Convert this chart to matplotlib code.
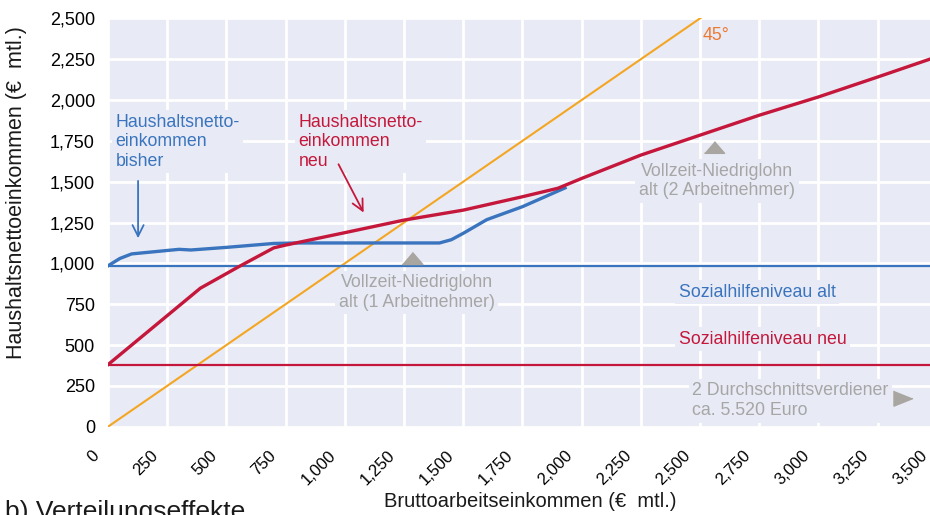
import matplotlib
matplotlib.use('Agg')
import matplotlib.pyplot as plt
import matplotlib.transforms as mtransforms

plt.rcParams['font.family'] = ['Liberation Sans', 'DejaVu Sans']

# values (Euro per month)
brutto_bisher = [0, 50, 100, 200, 300, 350, 500, 700, 800, 1400, 1450, 1500, 1600, 1750, 1930]
netto_bisher = [985, 1030, 1058, 1072, 1086, 1082, 1098, 1122, 1125, 1125, 1145, 1184, 1268, 1347, 1462]

brutto_neu = [0, 390, 550, 700, 750, 1000, 1250, 1500, 1750, 1900, 2000, 2250, 2500, 2750, 3000, 3250, 3500]
netto_neu = [380, 848, 978, 1095, 1112, 1188, 1265, 1326, 1408, 1460, 1520, 1663, 1785, 1907, 2019, 2141, 2265]

sozialhilfe_alt = 985
sozialhilfe_neu = 380
diagonale = [0, 2600]

niedriglohn_1 = (1282, 1033)
niedriglohn_2 = (2560, 1713)
durchschnitt_2 = (3356, 175)

ticks = list(range(0, 3501, 250))
tick_labels = ['{:,}'.format(t) for t in ticks]

bg = '#e8ebf5'
blau = '#3a74be'
rot = '#c4173b'
orange = '#f4a623'
grau = '#a6a6a6'
grau_marker = '#a9a5a1'

fig = plt.figure(figsize=(9.3, 5.15), dpi=100)
ax = fig.add_axes([108 / 930, 88.3 / 515, 828.8 / 930, 408.3 / 515])
ax.set_facecolor(bg)
for s in ax.spines.values():
    s.set_visible(False)
ax.set_axisbelow(True)
ax.grid(True, color='white', linewidth=2)

ax.set_xlim(0, 3500)
ax.set_ylim(0, 2500)
ax.set_xticks(ticks)
ax.set_yticks(ticks[:11])
ax.set_yticklabels(tick_labels[:11], fontsize=13)
ax.set_xticklabels(tick_labels, fontsize=12, rotation=45, ha='right', va='top',
                   rotation_mode='anchor')
ax.tick_params(axis='y', length=0, pad=9.4)
ax.tick_params(axis='x', length=0, pad=15)
shift = mtransforms.ScaledTranslation(-0.17, 0, fig.dpi_scale_trans)
for lab in ax.get_xticklabels():
    lab.set_transform(lab.get_transform() + shift)

# lines
ax.plot(diagonale, diagonale, color=orange, lw=1.5, zorder=2)
ax.axhline(sozialhilfe_alt, color=blau, lw=1.6, zorder=2.2)
ax.axhline(sozialhilfe_neu, color=rot, lw=1.6, zorder=2.2)
ax.plot(brutto_bisher, netto_bisher, color=blau, lw=2.4, zorder=3)
ax.plot(brutto_neu, netto_neu, color=rot, lw=2.4, zorder=3.2)

# markers
tri_up = [(-1, -0.58), (1, -0.58), (0, 0.58)]
tri_right = [(-1, 0.8), (-1, -0.8), (1, 0)]
ax.plot(*niedriglohn_1, marker=tri_up, markersize=15, color=grau_marker, ls='none', zorder=4)
ax.plot(*niedriglohn_2, marker=tri_up, markersize=14.5, color=grau_marker, ls='none', zorder=4)
ax.plot(*durchschnitt_2, marker=tri_right, markersize=13.7, color=grau_marker, ls='none', zorder=4)

box = dict(boxstyle='square,pad=0.2', facecolor=bg, edgecolor='none')
fs = 12.8
ax.text(31, 1917, 'Haushaltsnetto-\neinkommen\nbisher', color=blau, fontsize=fs,
        va='top', ha='left', bbox=box, zorder=1.5)
ax.text(804, 1917, 'Haushaltsnetto-\neinkommen\nneu', color=rot, fontsize=fs,
        va='top', ha='left', bbox=box, zorder=1.5)
ax.text(1303, 933, 'Vollzeit-Niedriglohn\nalt (1 Arbeitnehmer)', color=grau, fontsize=fs,
        va='top', ha='center', bbox=box, zorder=1.5)
ax.text(2572, 1616, 'Vollzeit-Niedriglohn\nalt (2 Arbeitnehmer)', color=grau, fontsize=fs,
        va='top', ha='center', bbox=box, zorder=1.5)
ax.text(2468, 271, '2 Durchschnittsverdiener\nca. 5.520 Euro', color=grau, fontsize=fs,
        va='top', ha='left', bbox=box, zorder=1.5)
ax.text(2411, 796, 'Sozialhilfeniveau alt', color=blau, fontsize=fs,
        va='baseline', ha='left', bbox=box, zorder=1.5)
ax.text(2411, 507, 'Sozialhilfeniveau neu', color=rot, fontsize=fs,
        va='baseline', ha='left', bbox=box, zorder=1.5)
ax.text(2511, 2447, '45°', color='#ec7a35', fontsize=fs, va='top', ha='left', zorder=1.5)

ax.annotate('', xy=(127, 1137), xytext=(127, 1522),
            arrowprops=dict(arrowstyle='->', color=blau, lw=1.3, mutation_scale=20))
ax.annotate('', xy=(1085, 1296), xytext=(968, 1622),
            arrowprops=dict(arrowstyle='->', color=rot, lw=1.3, mutation_scale=20))

fig.text(17 / 930, 1 - 192.5 / 515, 'Haushaltsnettoeinkommen (€  mtl.)', rotation=90,
         ha='center', va='center', fontsize=15.5, color='#1a1a1a')
fig.text(530 / 930, 8 / 515, 'Bruttoarbeitseinkommen (€  mtl.)', ha='center',
         va='baseline', fontsize=14.5, color='#1a1a1a')
fig.text(5 / 930, -4.5 / 515, 'b) Verteilungseffekte', ha='left', va='baseline',
         fontsize=19, color='#1a1a1a')

fig.savefig('out.png', dpi=100)
